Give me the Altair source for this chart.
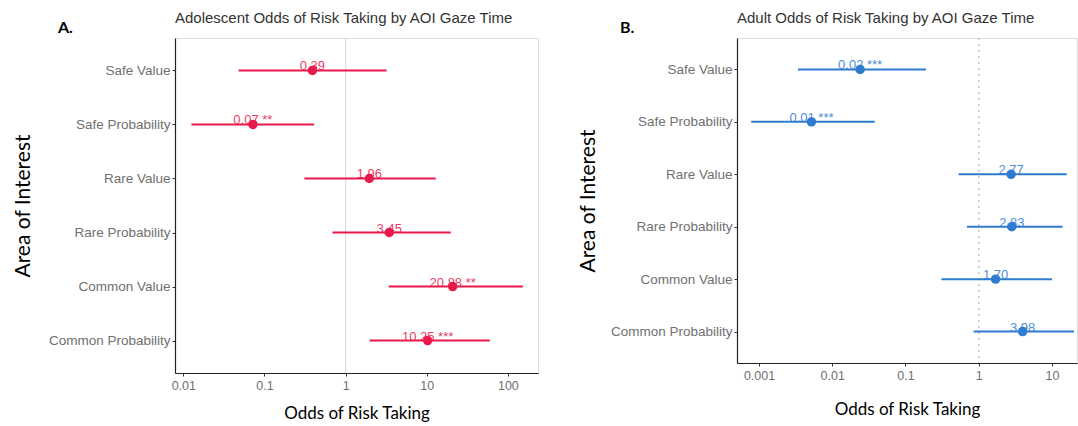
import altair as alt
import pandas as pd

aoi = ["Safe Value", "Safe Probability", "Rare Value", "Rare Probability",
       "Common Value", "Common Probability"]

adol_or = [0.39, 0.072, 1.96, 3.45, 20.88, 10.25]
adol_lo = [0.048, 0.0126, 0.31, 0.69, 3.4, 1.98]
adol_hi = [3.2, 0.41, 12.9, 19.8, 153.0, 60.0]
adol_stars = ["", "**", "", "", "**", "***"]

adult_or = [0.024, 0.0052, 2.77, 2.83, 1.70, 3.98]
adult_lo = [0.0034, 0.00078, 0.53, 0.69, 0.31, 0.85]
adult_hi = [0.19, 0.038, 15.9, 14.0, 10.0, 20.0]
adult_stars = ["***", "***", "", "", "", ""]

adol_ticks = [0.01, 0.1, 1, 10, 100]
adult_ticks = [0.001, 0.01, 0.1, 1, 10]


def make_df(ors, los, his, stars):
    labels = [f"{v:.2f}" + (f" {s}" if s else "") for v, s in zip(ors, stars)]
    return pd.DataFrame({"aoi": aoi, "or": ors, "lo": los, "hi": his, "label": labels})


def panel(df, color, title, domain, ticks, width, height, ref_dash, ref_color,
          letter, ytitle_pad, xtitle_pad):
    x_scale = alt.Scale(type="log", domain=domain)
    y_enc = alt.Y(
        "aoi:N", sort=aoi,
        scale=alt.Scale(type="point", padding=0.6),
        axis=alt.Axis(title="Area of Interest", titleFont="Lato", titleFontSize=21,
                      titleFontWeight="normal", titleColor="#000",
                      labelFont="Liberation Sans", labelFontSize=13.5, labelColor="#707070",
                      tickColor="#333", tickSize=3, labelPadding=2,
                      domainColor="#222", domainWidth=1.2, titlePadding=ytitle_pad,
                      grid=False),
    )
    x_axis = alt.Axis(title="Odds of Risk Taking", titleFont="Lato", titleFontSize=17,
                      titleFontWeight="normal", titleColor="#000",
                      values=ticks, format="~g",
                      labelFont="Liberation Sans", labelFontSize=12.5, labelColor="#707070",
                      tickColor="#333", tickSize=3, labelPadding=3,
                      domainColor="#222", domainWidth=1.2, titlePadding=xtitle_pad,
                      grid=False)
    base = alt.Chart(df)
    ref = alt.Chart(pd.DataFrame({"v": [1]})).mark_rule(
        color=ref_color, strokeWidth=1.3, strokeDash=ref_dash
    ).encode(x=alt.X("v:Q", scale=x_scale, axis=x_axis))
    bars = base.mark_rule(color=color, strokeWidth=2, clip=True).encode(
        x=alt.X("lo:Q", scale=x_scale, axis=x_axis), x2="hi:Q", y=y_enc)
    pts = base.mark_point(filled=True, size=90, color=color, opacity=1, clip=True).encode(
        x=alt.X("or:Q", scale=x_scale, axis=x_axis), y=y_enc)
    txt = base.mark_text(color=color, fontSize=13, font="Liberation Sans", opacity=0.85,
                         baseline="alphabetic", dy=0, align="center", clip=True).encode(
        x=alt.X("or:Q", scale=x_scale, axis=x_axis), y=y_enc, text="label:N")
    let = alt.Chart(pd.DataFrame({"t": [letter]})).mark_text(
        font="Lato", fontSize=16, fontWeight="bold", color="#000", align="left",
        baseline="alphabetic"
    ).encode(x=alt.value(-117), y=alt.value(-5), text="t:N")
    return alt.layer(ref, bars, pts, txt, let).properties(
        width=width, height=height,
        title=alt.TitleParams(title, anchor="start", frame="group", font="Liberation Sans",
                              fontSize=15, fontWeight="normal", color="#333", offset=-6),
    )


dfa = make_df(adol_or, adol_lo, adol_hi, adol_stars)
dfb = make_df(adult_or, adult_lo, adult_hi, adult_stars)

pa = panel(dfa, "#E8194B", "Adolescent Odds of Risk Taking by AOI Gaze Time",
           [0.0079, 235], adol_ticks, 363, 335, [1, 0], "#dddddd", "A.", 15, 14)
pb = panel(dfb, "#2E7BCF", "Adult Odds of Risk Taking by AOI Gaze Time",
           [0.0005, 22], adult_ticks, 340, 325, [2, 4], "#bbbbbb", "B.", 12, 20)

chart = alt.hconcat(pa, pb, spacing=37).properties(
    padding={"left": 11, "top": 10, "right": 0, "bottom": 0}
).configure_view(stroke="#aaaaaa", strokeWidth=1).configure(background="white")

chart.save("out.html", embed_options={"renderer": "svg", "actions": False})
